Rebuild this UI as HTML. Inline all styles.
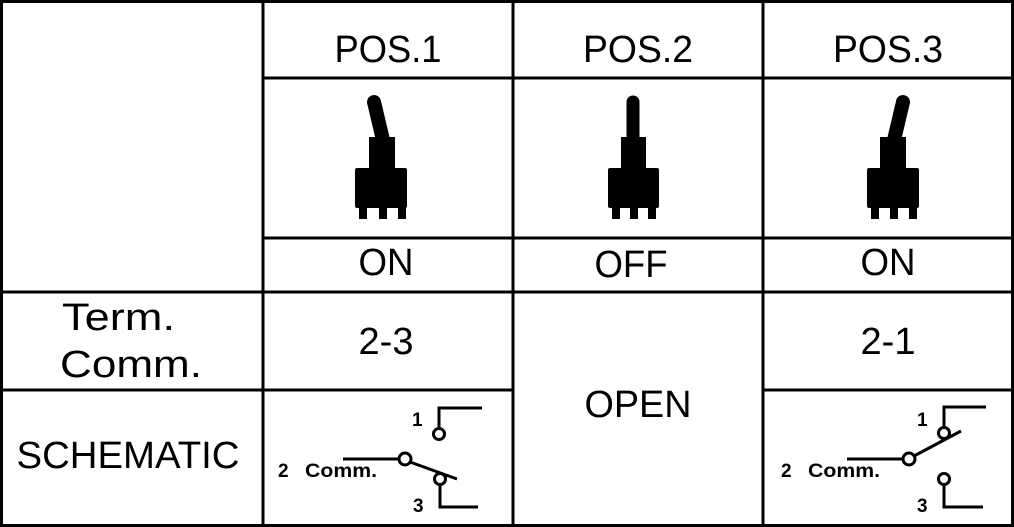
<!DOCTYPE html>
<html><head><meta charset="utf-8"><style>
html,body{margin:0;padding:0;background:#fff;}
svg{display:block;}
text{font-family:"Liberation Sans",sans-serif;fill:#000;}
</style></head><body>
<svg width="1014" height="527" viewBox="0 0 1014 527">
<g stroke="#000" stroke-width="3" fill="none">
  <rect x="1.5" y="1.5" width="1011" height="524"/>
  <line x1="263" y1="0" x2="263" y2="527"/>
  <line x1="513" y1="0" x2="513" y2="527"/>
  <line x1="763" y1="0" x2="763" y2="527"/>
  <line x1="263" y1="78" x2="1014" y2="78"/>
  <line x1="263" y1="238" x2="1014" y2="238"/>
  <line x1="0" y1="292" x2="1014" y2="292"/>
  <line x1="0" y1="390" x2="513" y2="390"/>
  <line x1="763" y1="390" x2="1014" y2="390"/>
</g>
<g font-size="38" text-anchor="middle">
  <text x="388" y="62" textLength="107" lengthAdjust="spacingAndGlyphs">POS.1</text>
  <text x="638" y="62" textLength="110" lengthAdjust="spacingAndGlyphs">POS.2</text>
  <text x="888" y="62" textLength="110" lengthAdjust="spacingAndGlyphs">POS.3</text>
  <text x="386" y="275" textLength="55" lengthAdjust="spacingAndGlyphs">ON</text>
  <text x="631" y="277" textLength="73" lengthAdjust="spacingAndGlyphs">OFF</text>
  <text x="888" y="275" textLength="55" lengthAdjust="spacingAndGlyphs">ON</text>
  <text x="386" y="354" textLength="55" lengthAdjust="spacingAndGlyphs">2-3</text>
  <text x="888" y="354" textLength="55" lengthAdjust="spacingAndGlyphs">2-1</text>
  <text x="638" y="417" textLength="107" lengthAdjust="spacingAndGlyphs">OPEN</text>
  <text x="128" y="468" textLength="223" lengthAdjust="spacingAndGlyphs">SCHEMATIC</text>
</g>
<g font-size="38" text-anchor="start">
  <text x="62" y="330" textLength="113" lengthAdjust="spacingAndGlyphs">Term.</text>
  <text x="60" y="377" textLength="142" lengthAdjust="spacingAndGlyphs">Comm.</text>
</g>
<g fill="#000">
  <line x1="374" y1="102" x2="383" y2="140" stroke="#000" stroke-width="14" stroke-linecap="round"/>
  <rect x="369" y="137" width="26" height="33"/>
  <rect x="355" y="168" width="52" height="40" rx="2"/>
  <rect x="359" y="206" width="8" height="13"/><rect x="379" y="206" width="8" height="13"/><rect x="398" y="206" width="8" height="13"/>
</g>
<g fill="#000">
  <line x1="633" y1="102" x2="633" y2="140" stroke="#000" stroke-width="13" stroke-linecap="round"/>
  <rect x="621" y="137" width="25" height="33"/>
  <rect x="608" y="168" width="51" height="40" rx="2"/>
  <rect x="612" y="206" width="8" height="13"/><rect x="630" y="206" width="8" height="13"/><rect x="648" y="206" width="8" height="13"/>
</g>
<g fill="#000">
  <line x1="903" y1="102" x2="894" y2="140" stroke="#000" stroke-width="14" stroke-linecap="round"/>
  <rect x="880" y="137" width="26" height="33"/>
  <rect x="867" y="168" width="52" height="40" rx="2"/>
  <rect x="871" y="206" width="8" height="13"/><rect x="890" y="206" width="8" height="13"/><rect x="909" y="206" width="8" height="13"/>
</g>
<g>
  <g stroke="#000" stroke-width="3" fill="none">
    <polyline points="482,408 439,408 439,429"/>
    <circle cx="439" cy="434" r="5.5" fill="#fff"/>
    <line x1="343" y1="459" x2="399" y2="459"/>
    <line x1="410" y1="462" x2="457" y2="479"/>
    <circle cx="405" cy="459" r="6" fill="#fff"/>
    <circle cx="440" cy="479" r="5.5" fill="#fff"/>
    <polyline points="440,485 440,507 478,507"/>
  </g>
  <g font-size="19" font-weight="bold">
    <text x="412" y="426">1</text>
    <text x="413" y="512">3</text>
    <text x="278" y="477">2</text>
    <text x="305" y="477" textLength="72" lengthAdjust="spacingAndGlyphs">Comm.</text>
  </g>
</g>
<g>
  <g stroke="#000" stroke-width="3" fill="none">
    <polyline points="986,407 944,407 944,428"/>
    <line x1="914" y1="456" x2="961" y2="431"/>
    <circle cx="944" cy="433" r="5.5" fill="#fff"/>
    <line x1="847" y1="459" x2="903" y2="459"/>
    <circle cx="909" cy="459" r="6" fill="#fff"/>
    <circle cx="944" cy="479" r="5.5" fill="#fff"/>
    <polyline points="944,485 944,507 983,507"/>
  </g>
  <g font-size="19" font-weight="bold">
    <text x="917" y="426">1</text>
    <text x="917" y="512">3</text>
    <text x="781" y="477">2</text>
    <text x="808" y="477" textLength="72" lengthAdjust="spacingAndGlyphs">Comm.</text>
  </g>
</g>
</svg>
</body></html>
